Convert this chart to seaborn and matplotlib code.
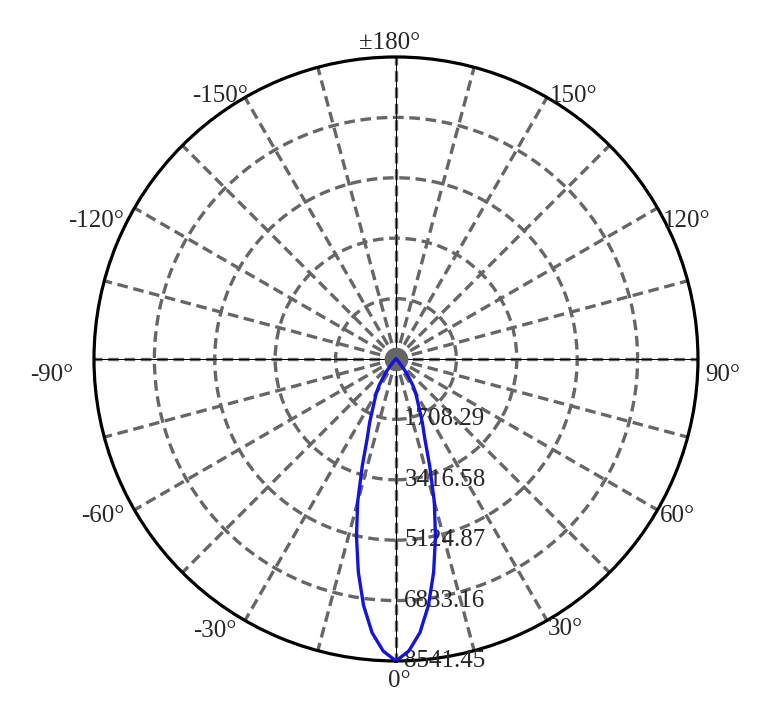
import numpy as np
import matplotlib
matplotlib.use("Agg")
import matplotlib.pyplot as plt
import matplotlib.transforms as mtransforms
import seaborn as sns

# datos de intensidad (cd) por angulo
angulos = [-90, -80, -70, -60, -50, -45, -40, -37.5, -35, -32.5, -30, -27.5, -25, -22.5, -20, -17.5,
           -15, -12.5, -10, -7.5, -5, -2.5, 0, 2.5, 5, 7.5, 10, 12.5, 15, 17.5, 20, 22.5, 25, 27.5,
           30, 32.5, 35, 37.5, 40, 45, 50, 60, 70, 80, 90]
intensidad = [0, 0, 3, 10, 30, 80, 200, 420, 635, 890, 1120, 1300, 1560, 1950, 2370, 3170,
              4190, 5160, 6130, 7030, 7770, 8270, 8541.45, 8270, 7770, 7030, 6130, 5160, 4190, 3170,
              2370, 1950, 1560, 1300, 1120, 890, 635, 420, 200, 80, 30, 10, 3, 0, 0]

anillos = [1708.29, 3416.58, 5124.87, 6833.16]
r_max = 8541.45
etiquetas_r = ["1708.29", "3416.58", "5124.87", "6833.16", "8541.45"]

ang_etiquetas = [0, 30, 60, 90, 120, 150, 180, -150, -120, -90, -60, -30]
txt_etiquetas = ["0°", "30°", "60°", "90°", "120°", "150°", "±180°", "-150°", "-120°", "-90°", "-60°", "-30°"]

sns.set_style("white")
plt.rcParams["font.family"] = ["Liberation Serif", "DejaVu Serif"]

fig = plt.figure(figsize=(7.66, 7.09), dpi=100)
ax = fig.add_axes([0.1227, 0.0677, 0.7885, 0.852], projection="polar")
ax.set_theta_zero_location("S")
ax.set_theta_direction(1)
ax.set_rlim(0, r_max)

gris = "#666666"
ax.set_xticks(np.deg2rad(np.arange(0, 360, 15)))
ax.set_xticklabels([])
ax.set_yticks(anillos)
ax.set_yticklabels([])
ax.tick_params(length=0)
ax.grid(True, color=gris, linewidth=2.4, linestyle=(0, (3.2, 1.7)))
ax.spines["polar"].set_color("black")
ax.spines["polar"].set_linewidth(2.3)

# ejes finos negros
for a in [0, 90]:
    t = np.deg2rad(a)
    ax.plot([t, t + np.pi], [r_max, r_max], color="black", linewidth=0.7, zorder=2)

ax.plot(0, 0, "o", color=gris, markersize=16, zorder=2)

sns.lineplot(x=np.deg2rad(angulos), y=intensidad, ax=ax, sort=False, estimator=None,
             color="#1414dc", linewidth=2.4, zorder=4)

# etiquetas radiales
for r, lab in zip(anillos + [r_max], etiquetas_r):
    tr = mtransforms.offset_copy(ax.transData, fig=fig, x=6, y=0, units="points")
    ax.text(0, r, lab, transform=tr, ha="left", va="center", fontsize=18, zorder=3)

# etiquetas angulares (desplazamientos en pixeles: derecha, abajo)
desp = {0: (3.5, 9), 30: (1, 8.5), 60: (2.5, 6), 90: (7, 16), 120: (5.5, 13), 150: (3, -1.5),
        180: (-6, -3), -30: (-8, 10.5), -60: (-9.5, 6.5), -90: (-21, 16), -120: (-10.5, 13),
        -150: (3, -1.5)}
for a, lab in zip(ang_etiquetas, txt_etiquetas):
    if a == 0:
        ha, va = "center", "top"
    elif a == 180:
        ha, va = "center", "bottom"
    elif a > 0:
        ha, va = "left", "center"
    else:
        ha, va = "right", "center"
    dx, dy = desp[a]
    tr = mtransforms.offset_copy(ax.transData, fig=fig, x=dx * 0.72, y=-dy * 0.72, units="points")
    ax.text(np.deg2rad(a), r_max, lab, transform=tr, ha=ha, va=va, fontsize=18, clip_on=False)

plt.savefig("out.png", dpi=100)
